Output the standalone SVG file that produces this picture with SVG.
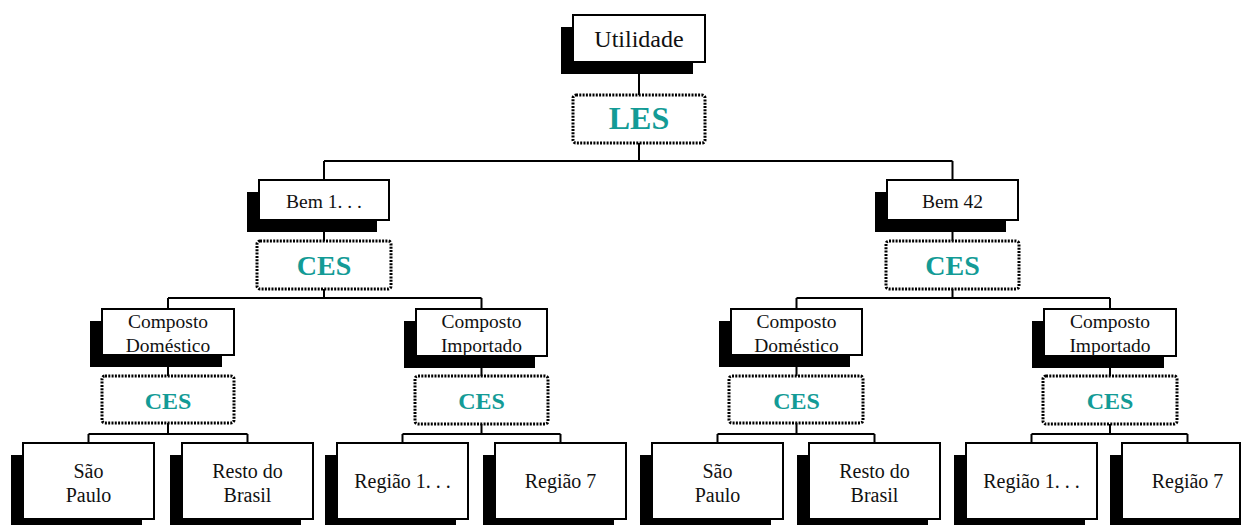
<svg xmlns="http://www.w3.org/2000/svg" width="1242" height="525" viewBox="0 0 1242 525">
<style>
.sh{fill:#000}
.bx{fill:#fff;stroke:#000;stroke-width:2}
.dt{fill:#fff;stroke:#000;stroke-width:3;stroke-dasharray:2 1.3}
.ln{fill:none;stroke:#000;stroke-width:2}
.t{font-family:"Liberation Serif","Times New Roman",serif;font-size:19.5px;fill:#111;text-anchor:middle}
.b{font-size:20px}
.u{font-size:24px}
.c{font-family:"Liberation Serif","Times New Roman",serif;font-weight:bold;fill:#139b96;text-anchor:middle}
</style>
<rect width="1242" height="525" fill="#fff"/>
<g id="connectors" class="ln">
<path d="M639 62V95M639 143V161M324 161H952.5M324 161V180M952.5 161V180"/>
<path d="M324 220V241M952.5 220V241"/>
<path d="M324 289V298M168 298H481.5M168 298V309M481.5 298V309"/>
<path d="M952.5 289V298M796.5 298H1110M796.5 298V309M1110 298V309"/>
<path d="M168 355V376M481.5 356V376M796.5 355V376M1110 355V376"/>
<path d="M168 423V434M88.5 434H247.5M88.5 434V443M247.5 434V443"/>
<path d="M481.5 424V434M402.5 434H560.5M402.5 434V443M560.5 434V443"/>
<path d="M796.5 423V434M717.5 434H874.5M717.5 434V443M874.5 434V443"/>
<path d="M1110 424V434M1031.5 434H1187.5M1031.5 434V443M1187.5 434V443"/>
</g>
<g id="utilidade">
<rect class="sh" x="561" y="27" width="132" height="47"/>
<rect class="bx" x="573" y="15" width="132" height="47"/>
<text class="t u" x="639" y="47">Utilidade</text>
</g>
<g id="les">
<rect class="dt" x="573" y="95" width="132" height="48" rx="3"/>
<text class="c" x="639" y="129" font-size="32">LES</text>
</g>
<g id="bem1">
<rect class="sh" x="247" y="192" width="130" height="40"/>
<rect class="bx" x="259" y="180" width="130" height="40"/>
<text class="t" x="324" y="208">Bem 1. . .</text>
</g>
<g id="ces-bem1">
<rect class="dt" x="257" y="241" width="134" height="48" rx="3"/>
<text class="c" x="324" y="275" font-size="28">CES</text>
</g>
<g id="bem42">
<rect class="sh" x="875" y="192" width="131" height="40"/>
<rect class="bx" x="887" y="180" width="131" height="40"/>
<text class="t" x="952.5" y="208">Bem 42</text>
</g>
<g id="ces-bem42">
<rect class="dt" x="886" y="241" width="133" height="48" rx="3"/>
<text class="c" x="952.5" y="275" font-size="28">CES</text>
</g>
<g id="dom1">
<rect class="sh" x="90" y="321" width="132" height="46"/>
<rect class="bx" x="102" y="309" width="132" height="46"/>
<text class="t" x="168" y="328">Composto</text>
<text class="t" x="168" y="352">Doméstico</text>
</g>
<g id="ces-dom1">
<rect class="dt" x="102" y="376" width="132" height="47" rx="3"/>
<text class="c" x="168" y="409" font-size="24">CES</text>
</g>
<g id="imp1">
<rect class="sh" x="404" y="321" width="131" height="47"/>
<rect class="bx" x="416" y="309" width="131" height="47"/>
<text class="t" x="481.5" y="328">Composto</text>
<text class="t" x="481.5" y="352">Importado</text>
</g>
<g id="ces-imp1">
<rect class="dt" x="415" y="376" width="133" height="48" rx="3"/>
<text class="c" x="481.5" y="409" font-size="24">CES</text>
</g>
<g id="dom2">
<rect class="sh" x="719" y="321" width="131" height="46"/>
<rect class="bx" x="731" y="309" width="131" height="46"/>
<text class="t" x="796.5" y="328">Composto</text>
<text class="t" x="796.5" y="352">Doméstico</text>
</g>
<g id="ces-dom2">
<rect class="dt" x="729" y="376" width="134" height="47" rx="3"/>
<text class="c" x="796.5" y="409" font-size="24">CES</text>
</g>
<g id="imp2">
<rect class="sh" x="1032" y="321" width="132" height="47"/>
<rect class="bx" x="1044" y="309" width="132" height="47"/>
<text class="t" x="1110" y="328">Composto</text>
<text class="t" x="1110" y="352">Importado</text>
</g>
<g id="ces-imp2">
<rect class="dt" x="1043" y="376" width="134" height="48" rx="3"/>
<text class="c" x="1110" y="409" font-size="24">CES</text>
</g>
<g id="sp1">
<rect class="sh" x="11" y="455" width="131" height="76"/>
<rect class="bx" x="23" y="443" width="131" height="76"/>
<text class="t b" x="88.5" y="478">São</text>
<text class="t b" x="88.5" y="502">Paulo</text>
</g>
<g id="rb1">
<rect class="sh" x="170" y="455" width="131" height="76"/>
<rect class="bx" x="182" y="443" width="131" height="76"/>
<text class="t b" x="247.5" y="478">Resto do</text>
<text class="t b" x="247.5" y="502">Brasil</text>
</g>
<g id="r1a">
<rect class="sh" x="325" y="455" width="131" height="76"/>
<rect class="bx" x="337" y="443" width="131" height="76"/>
<text class="t b" x="402.5" y="488">Região 1. . .</text>
</g>
<g id="r7a">
<rect class="sh" x="483" y="455" width="131" height="76"/>
<rect class="bx" x="495" y="443" width="131" height="76"/>
<text class="t b" x="560.5" y="488">Região 7</text>
</g>
<g id="sp2">
<rect class="sh" x="640" y="455" width="131" height="76"/>
<rect class="bx" x="652" y="443" width="131" height="76"/>
<text class="t b" x="717.5" y="478">São</text>
<text class="t b" x="717.5" y="502">Paulo</text>
</g>
<g id="rb2">
<rect class="sh" x="797" y="455" width="131" height="76"/>
<rect class="bx" x="809" y="443" width="131" height="76"/>
<text class="t b" x="874.5" y="478">Resto do</text>
<text class="t b" x="874.5" y="502">Brasil</text>
</g>
<g id="r1b">
<rect class="sh" x="954" y="455" width="131" height="76"/>
<rect class="bx" x="966" y="443" width="131" height="76"/>
<text class="t b" x="1031.5" y="488">Região 1. . .</text>
</g>
<g id="r7b">
<rect class="sh" x="1110" y="455" width="131" height="76"/>
<rect class="bx" x="1122" y="443" width="118" height="76"/>
<text class="t b" x="1187.5" y="488">Região 7</text>
</g>
</svg>
